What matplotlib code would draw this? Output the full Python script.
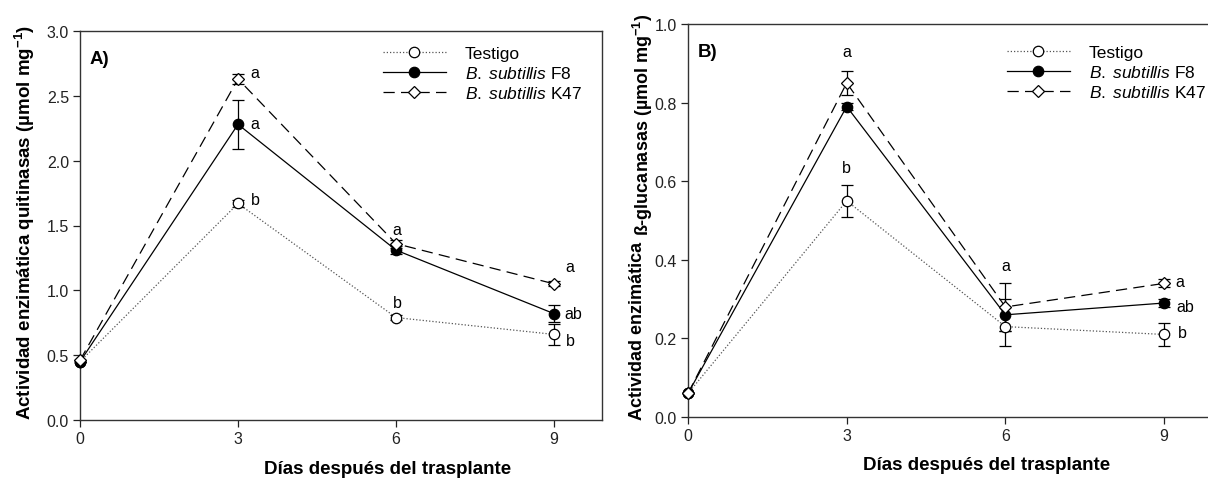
import matplotlib
matplotlib.use("Agg")
import matplotlib.pyplot as plt

# -------------------------------------------------------
# Data
# -------------------------------------------------------
dias = [0, 3, 6, 9]
series = ["Testigo", "F8", "K47"]
legend_labels = ["Testigo",
                 r"$\mathit{B.\;subtillis}$ F8",
                 r"$\mathit{B.\;subtillis}$ K47"]

# Panel A: quitinasas
quit_testigo = [0.45, 1.67, 0.79, 0.66]
quit_testigo_err = [0.0, 0.03, 0.02, 0.08]
quit_f8 = [0.45, 2.28, 1.31, 0.82]
quit_f8_err = [0.0, 0.19, 0.03, 0.065]
quit_k47 = [0.46, 2.63, 1.36, 1.05]
quit_k47_err = [0.0, 0.04, 0.03, 0.02]

# Panel B: beta-glucanasas
gluc_testigo = [0.06, 0.55, 0.23, 0.21]
gluc_testigo_err = [0.0, 0.04, 0.05, 0.03]
gluc_f8 = [0.06, 0.79, 0.26, 0.29]
gluc_f8_err = [0.0, 0.01, 0.04, 0.01]
gluc_k47 = [0.06, 0.85, 0.28, 0.34]
gluc_k47_err = [0.0, 0.03, 0.06, 0.01]

# significance letters (x, y, text)
letras_a = [(3.32, 2.68, "a"), (3.32, 2.29, "a"), (3.32, 1.70, "b"),
            (6.02, 1.47, "a"), (6.02, 0.91, "b"),
            (9.30, 1.18, "a"), (9.37, 0.82, "ab"), (9.30, 0.61, "b")]
letras_b = [(3.0, 0.93, "a"), (3.0, 0.635, "b"),
            (6.01, 0.385, "a"),
            (9.30, 0.345, "a"), (9.40, 0.282, "ab"), (9.35, 0.214, "b")]

# -------------------------------------------------------
# Style
# -------------------------------------------------------
plt.rcParams["font.family"] = ["Liberation Sans", "DejaVu Sans"]
plt.rcParams["mathtext.fontset"] = "custom"
plt.rcParams["mathtext.rm"] = "Liberation Sans"
plt.rcParams["mathtext.it"] = "Liberation Sans:italic"
plt.rcParams["mathtext.bf"] = "Liberation Sans:bold"

STYLES = {
    "Testigo": dict(linestyle=(0, (1, 1.6)), color="#555555", marker="o",
                    mfc="white", mec="black", ms=7.5, lw=0.9),
    "F8":      dict(linestyle="-", color="black", marker="o",
                    mfc="black", mec="black", ms=7.5, lw=0.9),
    "K47":     dict(linestyle=(0, (9, 5)), color="black", marker="D",
                    mfc="white", mec="black", ms=6.5, lw=0.9),
}

W, H = 1208, 481
fig = plt.figure(figsize=(W / 100, H / 100), dpi=100)
axA = fig.add_axes([80 / W, 1 - 421 / H, (602 - 80) / W, (421 - 32) / H])
axB = fig.add_axes([688 / W, 1 - 418 / H, 1 - 688 / W, (418 - 25) / H])


def draw_panel(ax, vals, errs, letras, ylim, yticks, xmax, tag):
    handles = []
    for key, y, e in zip(series, vals, errs):
        st = STYLES[key]
        ax.errorbar(dias, y, yerr=e, fmt="none", ecolor="black",
                    elinewidth=0.9, capsize=4, capthick=0.9, zorder=2)
        h, = ax.plot(dias, y, linestyle=st["linestyle"], color=st["color"],
                     lw=st["lw"], marker=st["marker"], mfc=st["mfc"],
                     mec=st["mec"], ms=st["ms"], mew=0.9, zorder=3,
                     clip_on=False)
        handles.append(h)
    for x, y, t in letras:
        ax.text(x, y, t, ha="center", va="center", fontsize=11.5)
    ax.set_xlim(0, xmax)
    ax.set_ylim(*ylim)
    ax.set_xticks(dias)
    ax.set_yticks(yticks)
    ax.set_yticklabels([f"{v:.1f}" for v in yticks])
    ax.tick_params(direction="out", length=5, width=0.9, labelsize=11.5,
                   pad=3, colors="#222222")
    for s in ax.spines.values():
        s.set_linewidth(1.0)
        s.set_color("#333333")
    ax.text(0.018, 0.93, tag, transform=ax.transAxes, fontsize=13.5,
            fontweight="bold", ha="left", va="center")
    return handles


hA = draw_panel(axA, [quit_testigo, quit_f8, quit_k47],
                [quit_testigo_err, quit_f8_err, quit_k47_err],
                letras_a, (0, 3.0), [0.0, 0.5, 1.0, 1.5, 2.0, 2.5, 3.0],
                9.91, "A)")
hB = draw_panel(axB, [gluc_testigo, gluc_f8, gluc_k47],
                [gluc_testigo_err, gluc_f8_err, gluc_k47_err],
                letras_b, (0, 1.0), [0.0, 0.2, 0.4, 0.6, 0.8, 1.0],
                9.83, "B)")
axB.spines["right"].set_visible(False)

leg_kw = dict(frameon=False, fontsize=12.5, handlelength=3.6,
              handletextpad=1.1, labelspacing=0.22, borderpad=0,
              borderaxespad=0, loc="upper left")
axA.legend(hA, legend_labels, bbox_to_anchor=(383 / W, 1 - 47 / H),
           bbox_transform=fig.transFigure, **leg_kw)
axB.legend(hB, legend_labels, bbox_to_anchor=(1007 / W, 1 - 46 / H),
           bbox_transform=fig.transFigure, **leg_kw)

# axis titles
lab_kw = dict(fontsize=13.5, fontweight="bold")
fig.text(388 / W, 1 - 470 / H, "Días después del trasplante",
         ha="center", va="center", **lab_kw)
fig.text(987 / W, 1 - 466 / H, "Días después del trasplante",
         ha="center", va="center", **lab_kw)
fig.text(25 / W, 1 - 222 / H,
         r"Actividad enzimática quitinasas (µmol mg$^{\mathbf{-1}}$)",
         rotation=90, ha="center", va="center", **lab_kw)
fig.text(637 / W, 1 - 420 / H, "Actividad enzimática",
         rotation=90, ha="center", va="bottom", fontsize=13,
         fontweight="bold")
fig.text(643 / W, 1 - 236 / H,
         r"ß-glucanasas (µmol mg$^{\mathbf{-1}}$)",
         rotation=90, ha="center", va="bottom", fontsize=13,
         fontweight="bold")

fig.savefig("out.png", dpi=100)
